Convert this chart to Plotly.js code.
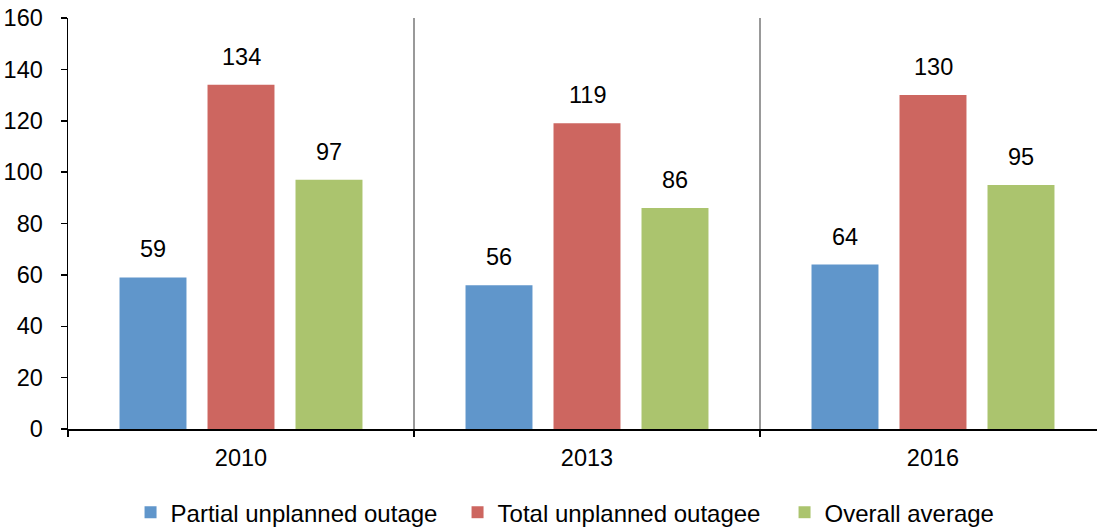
<!DOCTYPE html>
<html>
<head>
<meta charset="utf-8">
<script src="https://cdn.plot.ly/plotly-3.0.1.min.js"></script>
<style>html,body{margin:0;padding:0;background:#fff;}#chart{width:1097px;height:529px;}</style>
</head>
<body>
<div id="chart"></div>
<script>
const categories = ['2010', '2013', '2016'];
const partialOutage = [59, 56, 64];
const totalOutage = [134, 119, 130];
const overallAverage = [97, 86, 95];
const seriesNames = ['Partial unplanned outage', 'Total unplanned outagee', 'Overall average'];
const seriesColors = ['#6096CB', '#CD6660', '#ABC46E'];
const yTicks = [0, 20, 40, 60, 80, 100, 120, 140, 160];

const seriesValues = [partialOutage, totalOutage, overallAverage];
const bargap = 0.237;
const slot = (1 - bargap) / seriesValues.length;
const FONT = 'Liberation Sans, Arial, sans-serif';
const FS = 23.5;

const traces = seriesValues.map((vals, k) => ({
  type: 'bar',
  name: seriesNames[k],
  x: categories,
  y: vals,
  marker: {color: seriesColors[k], line: {width: 0}},
  hoverinfo: 'none'
}));

const annotations = [];
seriesValues.forEach((vals, k) => {
  vals.forEach((v, i) => {
    annotations.push({
      xref: 'x', yref: 'y',
      x: i + (k - (seriesValues.length - 1) / 2) * slot,
      y: v,
      text: String(v),
      showarrow: false,
      yanchor: 'middle',
      yshift: 28,
      font: {family: FONT, size: FS, color: '#000'}
    });
  });
});

const layout = {
  width: 1097, height: 529,
  margin: {l: 68, r: 0, t: 18, b: 100, autoexpand: false},
  paper_bgcolor: '#fff', plot_bgcolor: '#fff',
  font: {family: FONT, size: FS, color: '#000'},
  barmode: 'group',
  bargap: bargap,
  bargroupgap: 0.239,
  showlegend: true,
  legend: {
    orientation: 'h',
    xref: 'container', x: 0.119, xanchor: 'left',
    yref: 'container', y: 0.031, yanchor: 'middle',
    font: {family: FONT, size: 24, color: '#000'},
    entrywidth: 282,
    traceorder: 'normal'
  },
  xaxis: {
    type: 'category',
    range: [-0.5, 2.474],
    tickson: 'boundaries',
    ticks: 'outside', ticklen: 6, tickwidth: 1.5, tickcolor: '#000',
    showline: true, linecolor: '#000', linewidth: 1.5,
    showgrid: true, gridcolor: '#999999', gridwidth: 1.5,
    ticklabelstandoff: 7,
    tickfont: {family: FONT, size: FS, color: '#000'},
    zeroline: false, fixedrange: true
  },
  yaxis: {
    range: [0, 160],
    tickvals: yTicks,
    ticktext: yTicks.map(String),
    ticks: 'outside', ticklen: 6, tickwidth: 1.5, tickcolor: '#000',
    showline: true, linecolor: '#000', linewidth: 1.5,
    showgrid: false, zeroline: false,
    ticklabelstandoff: 13,
    tickfont: {family: FONT, size: FS, color: '#000'},
    fixedrange: true
  },
  annotations: annotations
};

Plotly.newPlot('chart', traces, layout, {displayModeBar: false, staticPlot: true});
</script>
</body>
</html>
